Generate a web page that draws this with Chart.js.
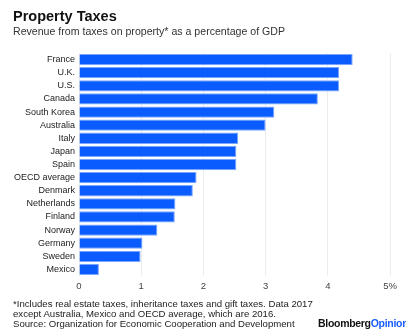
<!DOCTYPE html>
<html>
<head>
<meta charset="utf-8">
<script src="https://cdn.jsdelivr.net/npm/chart.js@4"></script>
<style>
  html, body { margin: 0; padding: 0; background: #fff; }
  body { width: 406px; height: 329px; position: relative; overflow: hidden; font-family: "Liberation Sans", Arial, sans-serif; }
  #wrap { position: absolute; left: 0; top: 0; width: 406px; height: 329px; }
  .t { position: absolute; white-space: nowrap; color: #111; }
  #title { left: 13px; top: 8px; font-size: 14.5px; font-weight: bold; }
  #sub { left: 13px; top: 25px; font-size: 10.6px; color: #333; }
  #foot { left: 13px; top: 299px; font-size: 9.6px; line-height: 10px; color: #222; }
  #brand { left: 318px; top: 317px; font-size: 10.5px; font-weight: bold; letter-spacing: -0.3px; }
  #brand span { color: #1a5cff; }
</style>
</head>
<body>
<div id="wrap"><canvas id="c" width="406" height="329"></canvas></div>
<div class="t" id="title">Property Taxes</div>
<div class="t" id="sub">Revenue from taxes on property* as a percentage of GDP</div>
<div class="t" id="foot">*Includes real estate taxes, inheritance taxes and gift taxes. Data 2017<br>except Australia, Mexico and OECD average, which are 2016.<br>Source: Organization for Economic Cooperation and Development</div>
<div class="t" id="brand">Bloomberg<span>Opinion</span></div>
<script>
const categories = ["France", "U.K.", "U.S.", "Canada", "South Korea", "Australia", "Italy", "Japan", "Spain", "OECD average", "Denmark", "Netherlands", "Finland", "Norway", "Germany", "Sweden", "Mexico"];
const values = [4.40, 4.18, 4.18, 3.84, 3.14, 3.00, 2.56, 2.53, 2.53, 1.89, 1.83, 1.55, 1.54, 1.26, 1.02, 0.99, 0.32];
const xTicks = [0, 1, 2, 3, 4, 5];

new Chart(document.getElementById('c'), {
  type: 'bar',
  data: {
    labels: categories,
    datasets: [{
      data: values,
      backgroundColor: '#0a5cff',
      borderColor: '#7aa6ff',
      borderWidth: 1,
      barPercentage: 0.86,
      categoryPercentage: 1.0
    }]
  },
  options: {
    indexAxis: 'y',
    responsive: false,
    animation: false,
    devicePixelRatio: 1,
    layout: { padding: { left: 0, right: 16, top: 53, bottom: 33 } },
    plugins: { legend: { display: false }, tooltip: { enabled: false } },
    scales: {
      x: {
        min: 0, max: 5,
        afterBuildTicks: (s) => { s.ticks = xTicks.map(v => ({ value: v })); },
        afterFit: (s) => { s.height = 20; },
        grid: { color: '#ececec', drawTicks: false, lineWidth: 1 },
        border: { display: false },
        ticks: {
          padding: 5,
          color: '#444',
          font: { family: '"Liberation Sans", Arial, sans-serif', size: 9.5 },
          callback: (v) => v === 5 ? '5%' : String(v)
        }
      },
      y: {
        afterFit: (s) => { s.width = 79; },
        grid: { display: false, drawTicks: false },
        border: { display: false },
        ticks: {
          padding: 4,
          color: '#222',
          font: { family: '"Liberation Sans", Arial, sans-serif', size: 9 },
          autoSkip: false
        }
      }
    }
  }
});
</script>
</body>
</html>
